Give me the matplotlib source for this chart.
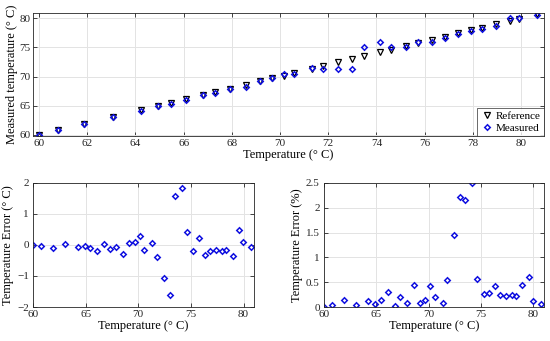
import numpy as np
import matplotlib
matplotlib.use("Agg")
import matplotlib.pyplot as plt

# reference temperatures (deg C)
ref_temp = [60.0, 60.8, 61.88, 63.07, 64.25, 64.92, 65.46, 66.1, 66.79, 67.3,
            67.93, 68.59, 69.16, 69.68, 70.17, 70.59, 71.33, 71.77, 72.42, 72.97,
            73.47, 74.15, 74.62, 75.23, 75.74, 76.29, 76.85, 77.4, 77.93, 78.37,
            78.95, 79.53, 79.93, 80.68]

# measured minus reference (deg C)
err_c = [0.0, -0.03, -0.09, 0.04, -0.07, -0.05, -0.09, -0.2, 0.02, -0.14,
         -0.06, -0.3, 0.06, 0.10, 0.30, -0.15, 0.05, -0.40, -1.05, -1.60,
         1.57, 1.85, 0.43, -0.19, 0.22, -0.33, -0.19, -0.16, -0.18, -0.17,
         -0.35, 0.48, 0.10, -0.06]

# error in percent
err_pct = [0.01, 0.04, 0.14, 0.05, 0.12, 0.07, 0.14, 0.30, 0.02, 0.20,
           0.08, 0.44, 0.08, 0.14, 0.42, 0.20, 0.08, 0.55, 1.46, 2.21,
           2.15, 2.49, 0.57, 0.26, 0.29, 0.43, 0.25, 0.22, 0.24, 0.23,
           0.45, 0.60, 0.12, 0.07]

ref_temp = np.array(ref_temp)
measured = ref_temp + np.array(err_c)

plt.rcParams['font.family'] = ['Liberation Serif', 'DejaVu Serif']
plt.rcParams['font.size'] = 8

fig = plt.figure(figsize=(5.5, 3.41), dpi=100)
ax1 = fig.add_axes([0.06, 0.601, 0.929, 0.361])
ax2 = fig.add_axes([0.06, 0.0997, 0.402, 0.364])
ax3 = fig.add_axes([0.589, 0.0997, 0.4, 0.364])

blue = '#1010e0'
dia = dict(marker='D', ls='none', mfc='none', mec=blue, ms=2.8, mew=1.1)
for ax in (ax1, ax2, ax3):
    ax.grid(True, color='#e3e3e3', linewidth=0.7)
    ax.set_axisbelow(True)
    ax.tick_params(direction='in', top=True, right=True, length=3,
                   width=0.6, colors='#262626', labelsize=8, pad=2)
    for s in ax.spines.values():
        s.set_color('#262626')
        s.set_linewidth(0.6)

ax1.plot(ref_temp, ref_temp, 'v', mfc='none', mec='k', ms=4.5, mew=0.9,
         label='Reference')
ax1.plot(ref_temp, measured, label='Measured', **dia)
ax1.set_xlim(59.75, 80.95)
ax1.set_ylim(59.8, 80.9)
ax1.set_xticks(np.arange(60, 81, 2))
ax1.set_yticks(np.arange(60, 81, 5))
ax1.set_xlabel('Temperature (° C)', fontsize=9, labelpad=1)
ax1.set_ylabel('Measured temperature (° C)', fontsize=9, labelpad=1)
leg = ax1.legend(loc='lower right', fontsize=8, frameon=True, fancybox=False,
                 edgecolor='#262626', borderpad=0.3, handletextpad=0.2,
                 handlelength=1.2, labelspacing=0.2, borderaxespad=0.0)
leg.get_frame().set_linewidth(0.6)

ax2.plot(ref_temp, err_c, **dia)
ax2.set_xlim(60, 81)
ax2.set_ylim(-2, 2)
ax2.set_xticks(np.arange(60, 81, 5))
ax2.set_yticks([-2, -1, 0, 1, 2])
ax2.tick_params(axis='y', pad=3)
ax2.set_xlabel('Temperature (° C)', fontsize=9, labelpad=1)
ax2.set_ylabel('Temperature Error (° C)', fontsize=9, labelpad=2)

ax3.plot(ref_temp, err_pct, **dia)
ax3.set_xlim(60, 81)
ax3.set_ylim(0, 2.5)
ax3.set_xticks(np.arange(60, 81, 5))
ax3.set_yticks([0, 0.5, 1, 1.5, 2, 2.5])
ax3.set_yticklabels(['0', '0.5', '1', '1.5', '2', '2.5'])
ax3.tick_params(axis='y', pad=3)
ax3.set_xlabel('Temperature (° C)', fontsize=9, labelpad=1)
ax3.set_ylabel('Temperature Error (%)', fontsize=9, labelpad=2)

fig.savefig('out.png', dpi=100)
